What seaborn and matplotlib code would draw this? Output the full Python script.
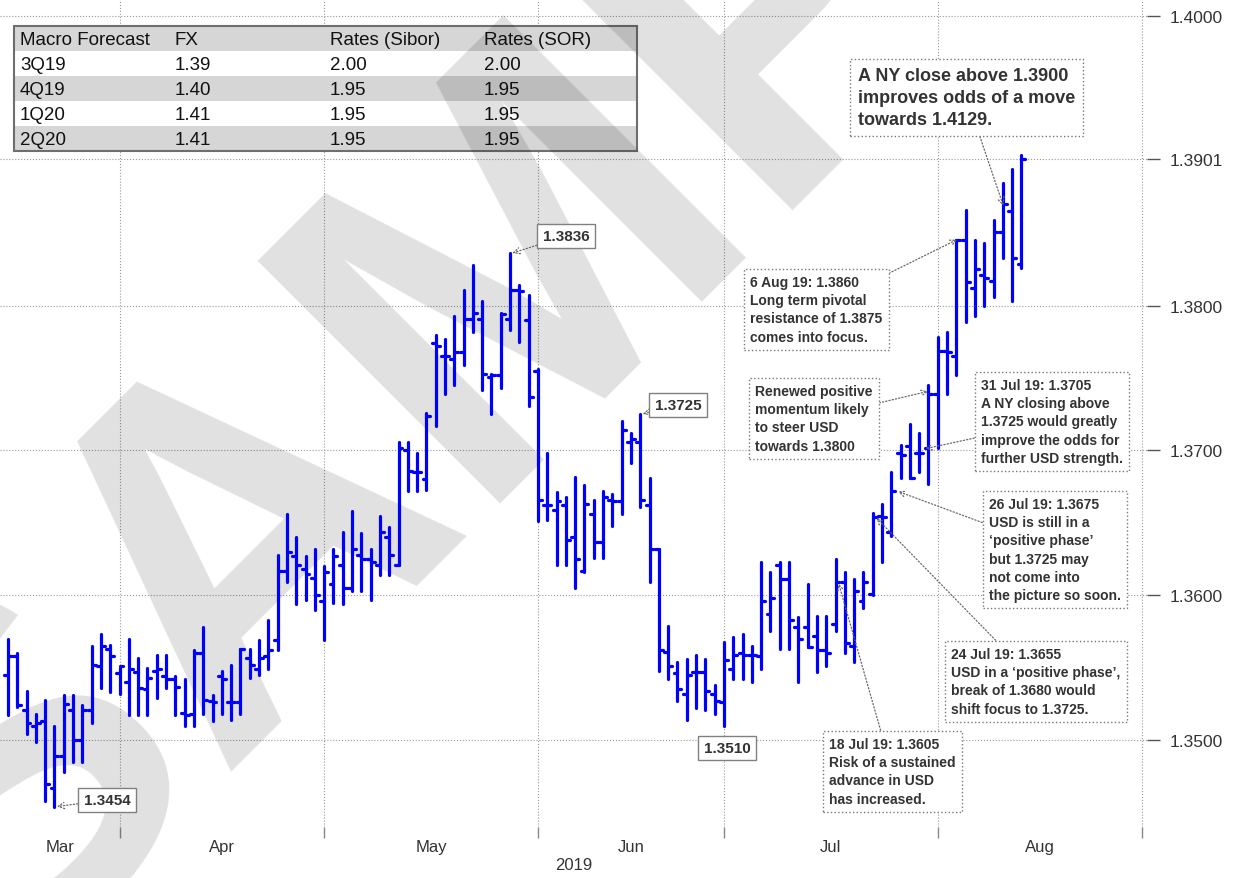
import numpy as np
import pandas as pd
import matplotlib
matplotlib.use("Agg")
import matplotlib.pyplot as plt
import matplotlib.patches as mpatches
import seaborn as sns

# USD/SGD daily bars, one per weekday starting 14 Mar 2019
start_date = "2019-03-14"

opens = [1.3545, 1.3558, 1.3521, 1.3510, 1.3513, 1.3467, 1.3489, 1.3521, 1.3500, 1.3521,
         1.3551, 1.3563, 1.3546, 1.3540, 1.3547, 1.3535, 1.3548, 1.3544, 1.3542, 1.3519,
         1.3518, 1.3560, 1.3527, 1.3544, 1.3526, 1.3526, 1.3557, 1.3549, 1.3558, 1.3569,
         1.3617, 1.3627, 1.3618, 1.3612, 1.3596, 1.3608, 1.3621, 1.3605, 1.3628, 1.3625,
         1.3621, 1.3640, 1.3621, 1.3700, 1.3685, 1.3680, 1.3774, 1.3765, 1.3763, 1.3768,
         1.3791, 1.3791, 1.3751, 1.3752, 1.3791, 1.3811, 1.3790, 1.3755, 1.3662, 1.3659,
         1.3662, 1.3640, 1.3617, 1.3656, 1.3637, 1.3666, 1.3665, 1.3706, 1.3706, 1.3662,
         1.3632, 1.3561, 1.3546, 1.3532, 1.3547, 1.3547, 1.3532, 1.3526, 1.3549, 1.3560,
         1.3559, 1.3558, 1.3587, 1.3621, 1.3611, 1.3578, 1.3578, 1.3572, 1.3562, 1.3580,
         1.3609, 1.3565, 1.3596, 1.3601, 1.3655, 1.3644, 1.3698, 1.3703, 1.3698, 1.3702,
         1.3739, 1.3769, 1.3765, 1.3845, 1.3812, 1.3821, 1.3817, 1.3851, 1.3865, 1.3829]
highs = [1.3570, 1.3560, 1.3534, 1.3518, 1.3528, 1.3510, 1.3531, 1.3531, 1.3524, 1.3565,
         1.3573, 1.3566, 1.3550, 1.3570, 1.3557, 1.3550, 1.3559, 1.3559, 1.3544, 1.3542,
         1.3562, 1.3578, 1.3531, 1.3548, 1.3552, 1.3563, 1.3563, 1.3569, 1.3583, 1.3628,
         1.3656, 1.3640, 1.3627, 1.3632, 1.3620, 1.3632, 1.3644, 1.3658, 1.3643, 1.3632,
         1.3655, 1.3647, 1.3706, 1.3706, 1.3698, 1.3726, 1.3780, 1.3777, 1.3793, 1.3811,
         1.3828, 1.3803, 1.3753, 1.3795, 1.3836, 1.3814, 1.3807, 1.3756, 1.3698, 1.3671,
         1.3668, 1.3682, 1.3676, 1.3666, 1.3672, 1.3670, 1.3720, 1.3712, 1.3725, 1.3681,
         1.3632, 1.3579, 1.3554, 1.3556, 1.3559, 1.3556, 1.3538, 1.3568, 1.3571, 1.3573,
         1.3565, 1.3623, 1.3616, 1.3623, 1.3623, 1.3585, 1.3608, 1.3586, 1.3586, 1.3625,
         1.3616, 1.3611, 1.3616, 1.3657, 1.3663, 1.3685, 1.3704, 1.3718, 1.3712, 1.3745,
         1.3778, 1.3782, 1.3845, 1.3866, 1.3845, 1.3843, 1.3859, 1.3885, 1.3894, 1.3904]
lows = [1.3517, 1.3523, 1.3504, 1.3499, 1.3458, 1.3454, 1.3478, 1.3485, 1.3485, 1.3512,
        1.3536, 1.3533, 1.3532, 1.3517, 1.3517, 1.3517, 1.3529, 1.3536, 1.3517, 1.3510,
        1.3510, 1.3518, 1.3513, 1.3518, 1.3514, 1.3518, 1.3543, 1.3545, 1.3549, 1.3562,
        1.3609, 1.3594, 1.3597, 1.3590, 1.3569, 1.3595, 1.3594, 1.3603, 1.3603, 1.3597,
        1.3614, 1.3614, 1.3621, 1.3672, 1.3672, 1.3673, 1.3717, 1.3739, 1.3745, 1.3759,
        1.3782, 1.3742, 1.3725, 1.3743, 1.3783, 1.3775, 1.3731, 1.3651, 1.3652, 1.3621,
        1.3621, 1.3605, 1.3616, 1.3626, 1.3626, 1.3648, 1.3656, 1.3691, 1.3661, 1.3609,
        1.3548, 1.3542, 1.3527, 1.3514, 1.3522, 1.3521, 1.3518, 1.3510, 1.3542, 1.3542,
        1.3540, 1.3549, 1.3575, 1.3563, 1.3563, 1.3540, 1.3564, 1.3547, 1.3551, 1.3575,
        1.3560, 1.3554, 1.3591, 1.3600, 1.3623, 1.3641, 1.3681, 1.3681, 1.3685, 1.3677,
        1.3702, 1.3739, 1.3752, 1.3789, 1.3793, 1.3800, 1.3806, 1.3833, 1.3803, 1.3826]
closes = [1.3558, 1.3524, 1.3512, 1.3512, 1.3470, 1.3489, 1.3525, 1.3500, 1.3521, 1.3552,
          1.3565, 1.3558, 1.3551, 1.3549, 1.3536, 1.3543, 1.3549, 1.3542, 1.3537, 1.3517,
          1.3560, 1.3528, 1.3526, 1.3542, 1.3526, 1.3563, 1.3552, 1.3557, 1.3562, 1.3617,
          1.3630, 1.3621, 1.3615, 1.3600, 1.3616, 1.3627, 1.3605, 1.3632, 1.3625, 1.3623,
          1.3644, 1.3628, 1.3702, 1.3686, 1.3685, 1.3724, 1.3772, 1.3765, 1.3768, 1.3791,
          1.3795, 1.3753, 1.3752, 1.3794, 1.3811, 1.3810, 1.3737, 1.3666, 1.3662, 1.3665,
          1.3638, 1.3625, 1.3663, 1.3637, 1.3668, 1.3665, 1.3714, 1.3708, 1.3666, 1.3632,
          1.3562, 1.3551, 1.3535, 1.3545, 1.3547, 1.3534, 1.3527, 1.3555, 1.3559, 1.3559,
          1.3559, 1.3596, 1.3598, 1.3611, 1.3583, 1.3570, 1.3564, 1.3562, 1.3560, 1.3609,
          1.3567, 1.3603, 1.3609, 1.3654, 1.3654, 1.3672, 1.3697, 1.3681, 1.3698, 1.3739,
          1.3769, 1.3768, 1.3845, 1.3816, 1.3825, 1.3819, 1.3851, 1.3870, 1.3833, 1.3901]

# forecast table
table_cols = ["Macro Forecast", "FX", "Rates (Sibor)", "Rates (SOR)"]
table_quarters = ["3Q19", "4Q19", "1Q20", "2Q20"]
table_fx = ["1.39", "1.40", "1.41", "1.41"]
table_sibor = ["2.00", "1.95", "1.95", "1.95"]
table_sor = ["2.00", "1.95", "1.95", "1.95"]

y_ticks = [1.35, 1.36, 1.37, 1.38, 1.3901, 1.40]

sns.set_theme(style="white")
plt.rcParams["font.family"] = ["Liberation Sans", "DejaVu Sans"]

W, H = 1233, 879
fig = plt.figure(figsize=(W / 100, H / 100), dpi=100)
ax = fig.add_axes([0, 51 / H, 1147 / W, 828 / H])
ax.patch.set_alpha(0)

df = pd.DataFrame({"date": pd.bdate_range(start_date, periods=len(closes)),
                   "open": opens, "high": highs, "low": lows, "close": closes})
df["x"] = np.arange(len(df))

# every bar is three short segments: high-low, open tick (left), close tick (right)
w = 0.42
rows = []
for i, r in df.iterrows():
    rows += [(f"{i}hl", r.x, r.low), (f"{i}hl", r.x, r.high),
             (f"{i}o", r.x - w, r.open), (f"{i}o", r.x, r.open),
             (f"{i}c", r.x, r.close), (f"{i}c", r.x + w, r.close)]
segs = pd.DataFrame(rows, columns=["seg", "x", "price"])
sns.lineplot(data=segs, x="x", y="price", units="seg", estimator=None, sort=False,
             color="#0000ff", lw=2.3, ax=ax, zorder=3)

# month boundaries on the weekday axis
cal = pd.bdate_range(start_date, "2019-09-30")
month_starts = [i for i in range(1, len(cal)) if cal[i].month != cal[i - 1].month]
x_left, x_right = -0.86, 122.5
edges = [x_left] + month_starts
label_pos = [(a + b) / 2 for a, b in zip(edges[:-1], edges[1:])]
labels = [cal[0].strftime("%b")] + [cal[i].strftime("%b") for i in month_starts[:-1]]

ax.set_xlim(x_left, x_right)
ax.set_ylim(1.3440, 1.40117)
ax.set_xticks(month_starts)
ax.set_xticklabels([])
ax.set_xticks(label_pos, minor=True)
ax.set_xticklabels(labels, minor=True)
ax.tick_params(axis="x", which="major", bottom=True, length=8, width=1, color="#888888", direction="out")
ax.tick_params(axis="x", which="minor", bottom=True, length=0, pad=9, labelsize=12, labelcolor="#333333")

ax.set_yticks(y_ticks)
ax.set_yticklabels([f"{v:.4f}" for v in y_ticks])
ax.tick_params(axis="y", left=False, labelleft=False, right=True, labelright=True,
               length=9, width=1, color="#555555", pad=7, labelsize=12.5, labelcolor="#333333")

ax.set_axisbelow(True)
ax.grid(True, which="major", ls=":", color="#999999", lw=0.8)
for s in ax.spines.values():
    s.set_visible(False)
ax.set_ylabel("")
ax.set_xlabel("2019", fontsize=12, color="#333333", labelpad=2)


def fpx(x, y):
    return (x / W, 1 - y / H)


# watermark
ax.text(*fpx(626, 181), "SAMPLE", transform=fig.transFigure, fontsize=358, fontweight="bold",
        color="black", alpha=0.12, rotation=45, rotation_mode="anchor",
        ha="center", va="center", clip_on=False, zorder=1.5)

# forecast table
tx0, tx1, ty0, rh = 14, 637, 27, 25
col_x = [20, 175, 330, 484]
table_body = list(zip(table_quarters, table_fx, table_sibor, table_sor))
all_rows = [table_cols] + table_body
for k, row in enumerate(all_rows):
    fc = "#d6d6d6" if k % 2 == 0 else "white"
    x0, y0 = fpx(tx0, ty0 + (k + 1) * rh)
    ax.add_patch(mpatches.Rectangle((x0, y0), (tx1 - tx0) / W, rh / H, transform=fig.transFigure,
                                    fc=fc, ec="none", zorder=1, clip_on=False))
    for cx, val in zip(col_x, row):
        ax.text(*fpx(cx, ty0 + k * rh + rh / 2 + 1), val, transform=fig.transFigure,
                fontsize=13.5, color="#111111", va="center", ha="left", zorder=1.2)
bx, by = fpx(tx0, ty0 + len(all_rows) * rh)
ax.add_patch(mpatches.Rectangle((bx, by), (tx1 - tx0) / W, len(all_rows) * rh / H, transform=fig.transFigure,
                                fc="none", ec="#6e6e6e", lw=1.5, zorder=1.3, clip_on=False))

# price labels
num_box = dict(boxstyle="square,pad=0.35", fc="white", ec="#808080", lw=1)
arrow = dict(arrowstyle="->", color="#666666", lw=0.9, ls=":", shrinkA=0, shrinkB=1)
price_notes = [("1.3454", (5.1, 1.3454), (107, 801)),
               ("1.3836", (54.1, 1.3836), (566, 237)),
               ("1.3725", (68.1, 1.3725), (678, 406))]
for txt, xy, pos in price_notes:
    ax.annotate(txt, xy=xy, xytext=fpx(*pos), textcoords="figure fraction", ha="center", va="center",
                fontsize=11, fontweight="bold", color="#333333", bbox=num_box, arrowprops=arrow, zorder=5)
ax.text(*fpx(727, 749), "1.3510", transform=fig.transFigure, ha="center", va="center", fontsize=11,
        fontweight="bold", color="#333333", bbox=num_box, zorder=5)

# comment boxes
note_box = dict(boxstyle="square,pad=0.45", fc="white", ec="#777777", lw=1, ls=":")
comments = [
    ("A NY close above 1.3900\nimproves odds of a move\ntowards 1.4129.", (107.1, 1.3868), (858, 68), 13),
    ("6 Aug 19: 1.3860\nLong term pivotal\nresistance of 1.3875\ncomes into focus.", (102.2, 1.3846), (750, 276), 10),
    ("Renewed positive\nmomentum likely\nto steer USD\ntowards 1.3800", (99.1, 1.3741), (755, 385), 10),
    ("31 Jul 19: 1.3705\nA NY closing above\n1.3725 would greatly\nimprove the odds for\nfurther USD strength.",
     (98.5, 1.3701), (981, 379), 10),
    ("26 Jul 19: 1.3675\nUSD is still in a\n\u2018positive phase\u2019\nbut 1.3725 may\nnot come into\nthe picture so soon.",
     (95.6, 1.3672), (989, 498), 10),
    ("24 Jul 19: 1.3655\nUSD in a \u2018positive phase\u2019,\nbreak of 1.3680 would\nshift focus to 1.3725.",
     (93.3, 1.3654), (951, 648), 10),
    ("18 Jul 19: 1.3605\nRisk of a sustained\nadvance in USD\nhas increased.", (89.3, 1.3609), (829, 738), 10),
]
for txt, xy, pos, fs in comments:
    ax.annotate(txt, xy=xy, xytext=fpx(*pos), textcoords="figure fraction", ha="left", va="top",
                fontsize=fs, fontweight="bold", color="#333333", linespacing=1.38,
                bbox=note_box, arrowprops=arrow, zorder=5)

fig.savefig("out.png", dpi=100)
